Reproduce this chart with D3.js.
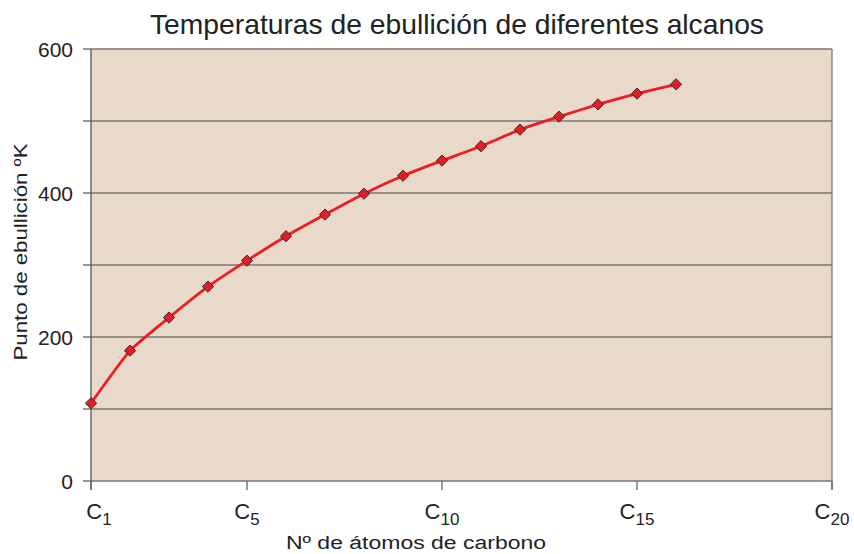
<!DOCTYPE html>
<html>
<head>
<meta charset="utf-8">
<script src="https://cdn.jsdelivr.net/npm/d3@7"></script>
<style>
  body { margin: 0; background: #fff; }
  text { font-family: "Liberation Sans", Arial, sans-serif; fill: #222; }
</style>
</head>
<body>
<script>
// carbon count and boiling point (K)
var carbons = [1, 2, 3, 4, 5, 6, 7, 8, 9, 10, 11, 12, 13, 14, 15, 16];
var boiling = [108, 181, 227, 270, 306, 340, 370, 399, 424, 445, 465, 488, 506, 523, 538, 551];
var xTicks = [1, 5, 10, 15, 20];
var yTicks = [0, 100, 200, 300, 400, 500, 600];
var yLabels = [0, 200, 400, 600];

var width = 854, height = 554;
var margin = {left: 91, right: 22, top: 49, bottom: 73};

var svg = d3.select("body").append("svg")
    .attr("width", width)
    .attr("height", height);

var x = d3.scaleLinear().domain([1, 20]).range([margin.left, width - margin.right]);
var y = d3.scaleLinear().domain([0, 600]).range([height - margin.bottom, margin.top]);

//plot background
svg.append("rect")
    .attr("x", x(1)).attr("y", y(600))
    .attr("width", x(20) - x(1)).attr("height", y(0) - y(600))
    .attr("fill", "#e8d9ca");

//horizontal grid lines with left ticks
svg.selectAll(".grid")
    .data(yTicks)
    .enter().append("line")
    .attr("x1", x(1) - 8).attr("x2", x(20))
    .attr("y1", function(d){ return y(d); })
    .attr("y2", function(d){ return y(d); })
    .attr("stroke", "#7d7775").attr("stroke-width", 1.5);

//left and right borders
svg.append("line")
    .attr("x1", x(1)).attr("x2", x(1))
    .attr("y1", y(600)).attr("y2", y(0) + 9)
    .attr("stroke", "#555").attr("stroke-width", 1.3);
svg.append("line")
    .attr("x1", x(20)).attr("x2", x(20))
    .attr("y1", y(600)).attr("y2", y(0) + 9)
    .attr("stroke", "#7d7775").attr("stroke-width", 1.3);

//x ticks
svg.selectAll(".xtick")
    .data(xTicks)
    .enter().append("line")
    .attr("x1", function(d){ return x(d); })
    .attr("x2", function(d){ return x(d); })
    .attr("y1", y(0)).attr("y2", y(0) + 9)
    .attr("stroke", "#666").attr("stroke-width", 1.3);

//y tick labels
svg.selectAll(".ylab")
    .data(yLabels)
    .enter().append("text")
    .attr("x", x(1) - 18)
    .attr("y", function(d){ return y(d) + 8; })
    .attr("text-anchor", "end")
    .style("font-size", "21px")
    .text(function(d){ return d; });

//x tick labels: C with subscript
var xl = svg.selectAll(".xlab")
    .data(xTicks)
    .enter().append("text")
    .attr("x", function(d){ return d == 1 ? x(d) + 8 : x(d); })
    .attr("y", y(0) + 38)
    .attr("text-anchor", "middle")
    .style("font-size", "22px");
xl.append("tspan").text("C");
xl.append("tspan")
    .attr("dy", 6)
    .style("font-size", "17px")
    .text(function(d){ return d; });

//axis titles
svg.append("text")
    .attr("x", 416).attr("y", 549)
    .attr("text-anchor", "middle")
    .attr("textLength", 260)
    .attr("lengthAdjust", "spacingAndGlyphs")
    .style("font-size", "18px")
    .text("Nº de átomos de carbono");

svg.append("text")
    .attr("transform", "translate(27," + 252 + ") rotate(-90)")
    .attr("text-anchor", "middle")
    .attr("textLength", 217)
    .attr("lengthAdjust", "spacingAndGlyphs")
    .style("font-size", "18px")
    .text("Punto de ebullición ºK");

svg.append("text")
    .attr("x", 457).attr("y", 34)
    .attr("text-anchor", "middle")
    .attr("textLength", 614)
    .attr("lengthAdjust", "spacingAndGlyphs")
    .style("font-size", "28px")
    .text("Temperaturas de ebullición de diferentes alcanos");

//data line
var pts = carbons.map(function(c, i){ return [c, boiling[i]]; });
var line = d3.line()
    .x(function(d){ return x(d[0]); })
    .y(function(d){ return y(d[1]); })
    .curve(d3.curveCardinal.tension(0.5));

svg.append("path")
    .datum(pts)
    .attr("d", line)
    .attr("fill", "none")
    .attr("stroke", "#ee1c24")
    .attr("stroke-width", 2.8);

//diamond markers
svg.selectAll(".pt")
    .data(pts)
    .enter().append("path")
    .attr("d", d3.symbol().type(d3.symbolDiamond2).size(80))
    .attr("transform", function(d){ return "translate(" + x(d[0]) + "," + y(d[1]) + ")"; })
    .attr("fill", "#e31d25")
    .attr("stroke", "#3a2a2a")
    .attr("stroke-width", 1);
</script>
</body>
</html>
